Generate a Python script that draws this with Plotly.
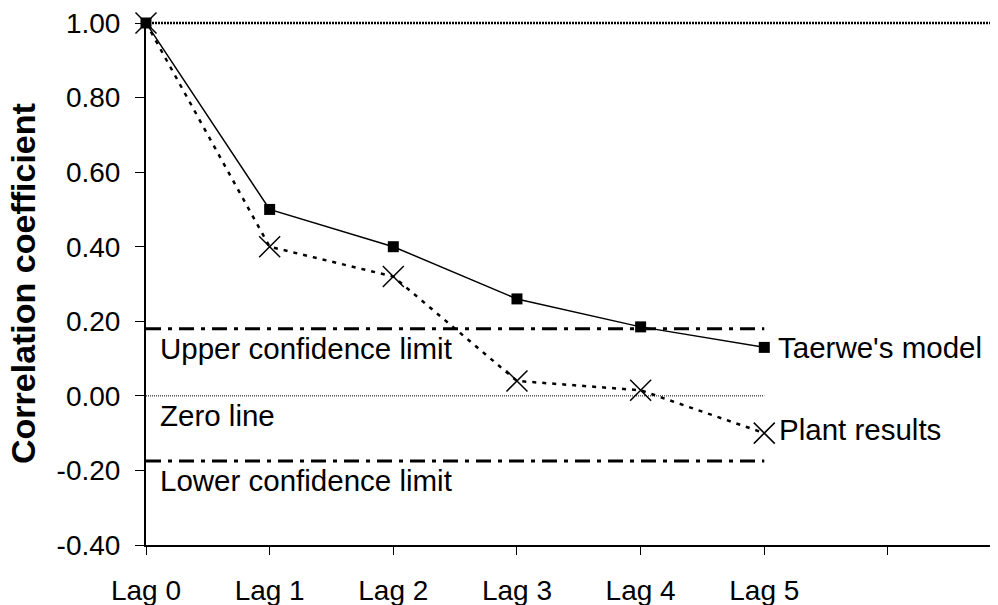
import plotly.graph_objects as go

lags = ["Lag 0", "Lag 1", "Lag 2", "Lag 3", "Lag 4", "Lag 5"]
taerwe_model = [1.00, 0.50, 0.40, 0.26, 0.185, 0.13]
plant_results = [1.00, 0.40, 0.32, 0.04, 0.015, -0.10]
upper_limit = 0.18
lower_limit = -0.175
zero_level = 0.0
y_ticks = [-0.40, -0.20, 0.00, 0.20, 0.40, 0.60, 0.80, 1.00]
x_tick_labels = lags + [""]

xs = list(range(len(lags)))
x_ends = [xs[0], xs[-1]]
FONT = "Liberation Sans, Arial, sans-serif"

fig = go.Figure()

# confidence limits and zero line
fig.add_trace(go.Scatter(x=x_ends, y=[upper_limit] * 2, mode="lines",
                         line=dict(color="black", width=3, dash="15px,7px,4px,7px"),
                         hoverinfo="skip", showlegend=False))
fig.add_trace(go.Scatter(x=x_ends, y=[lower_limit] * 2, mode="lines",
                         line=dict(color="black", width=3, dash="15px,7px,4px,7px"),
                         hoverinfo="skip", showlegend=False))
fig.add_trace(go.Scatter(x=x_ends, y=[zero_level] * 2, mode="lines",
                         line=dict(color="black", width=1, dash="1px,1px"),
                         hoverinfo="skip", showlegend=False))

# series
fig.add_trace(go.Scatter(x=xs, y=plant_results, mode="lines+markers", name="Plant results",
                         line=dict(color="black", width=2.5, dash="4px,6px"),
                         marker=dict(symbol="x-thin-open", size=21,
                                     line=dict(color="black", width=1.5)),
                         cliponaxis=False, showlegend=False))
fig.add_trace(go.Scatter(x=xs, y=taerwe_model, mode="lines+markers", name="Taerwe's model",
                         line=dict(color="black", width=1.5),
                         marker=dict(symbol="square", size=11, color="black"),
                         cliponaxis=False, showlegend=False))

# top reference line at 1.00
fig.add_shape(type="line", xref="paper", yref="paper", x0=0, x1=1, y0=1.0, y1=1.0,
              line=dict(color="black", width=2.5, dash="2px,1px"))

ann_font = dict(family=FONT, size=29.5, color="black")
fig.add_annotation(x=0, y=upper_limit, text="Upper confidence limit", showarrow=False,
                   xanchor="left", yanchor="top", xshift=12, yshift=-1, font=ann_font)
fig.add_annotation(x=0, y=zero_level, text="Zero line", showarrow=False,
                   xanchor="left", yanchor="top", xshift=12, yshift=-1, font=ann_font)
fig.add_annotation(x=0, y=lower_limit, text="Lower confidence limit", showarrow=False,
                   xanchor="left", yanchor="top", xshift=12, yshift=-1, font=ann_font)
fig.add_annotation(x=xs[-1], y=taerwe_model[-1], text="Taerwe's model", showarrow=False,
                   xanchor="left", yanchor="middle", xshift=12, yshift=0, font=ann_font)
fig.add_annotation(x=xs[-1], y=plant_results[-1], text="Plant results", showarrow=False,
                   xanchor="left", yanchor="middle", xshift=13, yshift=4, font=ann_font)

# y-axis title
fig.add_annotation(xref="paper", yref="paper", x=0, y=0.5, xshift=-123,
                   text="<b>Correlation coefficient</b>", textangle=-90, showarrow=False,
                   xanchor="center", yanchor="middle",
                   font=dict(family=FONT, size=34, color="black"))

# page body has an 8px margin, so the figure is sized/offset to compensate
fig.update_layout(
    width=990, height=597,
    margin=dict(l=138, r=0, t=15, b=60),
    paper_bgcolor="white", plot_bgcolor="white",
    font=dict(family=FONT, size=28, color="black"),
    xaxis=dict(range=[0, 6.89], tickmode="array", tickvals=list(range(len(x_tick_labels))),
               ticktext=x_tick_labels, showgrid=False, zeroline=False, automargin=False,
               showline=True, linecolor="black", linewidth=2,
               ticks="outside", ticklen=8, tickwidth=1, tickcolor="black",
               ticklabelstandoff=11, ticklabeloverflow="allow", tickfont=dict(size=28)),
    yaxis=dict(range=[-0.40, 1.00], tickmode="array", tickvals=y_ticks,
               ticktext=[f"{v:.2f}" for v in y_ticks], showgrid=False, zeroline=False,
               automargin=False,
               showline=True, linecolor="black", linewidth=2,
               ticks="outside", ticklen=9, tickwidth=1, tickcolor="black",
               ticklabelstandoff=9, ticklabeloverflow="allow", tickfont=dict(size=28)),
)

fig.write_html("out.html")
